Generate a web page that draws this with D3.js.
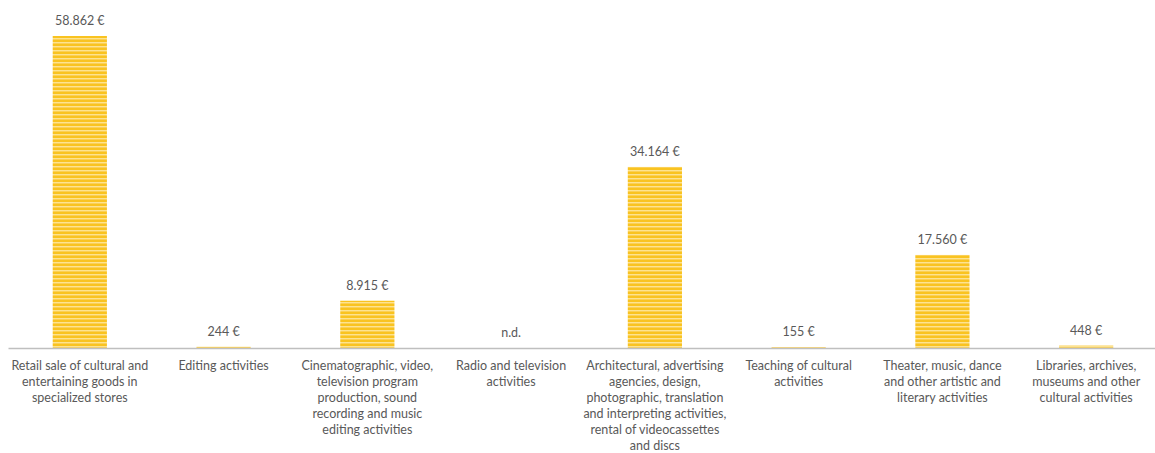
<!DOCTYPE html>
<html>
<head>
<meta charset="utf-8">
<script src="https://cdn.jsdelivr.net/npm/d3@7"></script>
<style>
  html, body { margin: 0; padding: 0; background: #fff; }
  svg { display: block; }
  text { font-family: "Lato", "Open Sans", "Liberation Sans", sans-serif; fill: #595959; font-size: 12.5px; }
</style>
</head>
<body>
<svg id="chart" width="1155" height="453"></svg>
<script>
// Cultural sector figures by activity (thousand €); null = not available
const categories = [
  ["Retail sale of cultural and", "entertaining goods in", "specialized stores"],
  ["Editing activities"],
  ["Cinematographic, video,", "television program", "production, sound", "recording and music", "editing activities"],
  ["Radio and television", "activities"],
  ["Architectural, advertising", "agencies, design,", "photographic, translation", "and interpreting activities,", "rental of videocassettes", "and discs"],
  ["Teaching of cultural", "activities"],
  ["Theater, music, dance", "and other artistic and", "literary activities"],
  ["Libraries, archives,", "museums and other", "cultural activities"]
];
const values = [58862, 244, 8915, null, 34164, 155, 17560, 448];

const svg = d3.select("#chart");
const W = 1155, H = 453;
const margin = { left: 8, right: -3, top: 36, bottom: 105 };
const baseY = H - margin.bottom;

const idx = d3.range(categories.length);
const x = d3.scaleBand().domain(idx).range([margin.left, W - margin.right]).paddingInner(0.623).paddingOuter(0.311);
const y = d3.scaleLinear().domain([0, 58862]).range([baseY, margin.top]);

// striped gold fill
const defs = svg.append("defs");
const pat = defs.append("pattern").attr("id", "stripes").attr("patternUnits", "userSpaceOnUse")
  .attr("width", 8).attr("height", 4);
pat.append("rect").attr("width", 8).attr("height", 4).attr("fill", "#F9C320");
pat.append("rect").attr("y", 2).attr("width", 8).attr("height", 1).attr("fill", "#FDE390");
pat.append("rect").attr("y", 3).attr("width", 8).attr("height", 1).attr("fill", "#FBD055");

const fmt = v => v == null ? "n.d." : d3.format(",")(v).replace(/,/g, ".") + " €";

svg.append("g").selectAll("rect").data(idx.filter(i => values[i] != null)).join("rect")
  .attr("x", i => x(i))
  .attr("width", x.bandwidth())
  .attr("y", i => y(values[i]))
  .attr("height", i => baseY - y(values[i]))
  .attr("fill", "url(#stripes)");

// value labels
svg.append("g").selectAll("text").data(idx).join("text")
  .attr("x", i => x(i) + x.bandwidth() / 2)
  .attr("y", i => (values[i] == null ? baseY : y(values[i])) - 11)
  .attr("text-anchor", "middle")
  .text(i => fmt(values[i]));

// category axis
const xAxis = d3.axisBottom(x).tickSize(0).tickFormat("");
const gx = svg.append("g").attr("transform", `translate(0,${baseY})`).call(xAxis);
gx.select(".domain").attr("stroke", "#BFBFBF").attr("stroke-width", 1.5);

const lab = svg.append("g").selectAll("text").data(idx).join("text")
  .attr("text-anchor", "middle")
  .attr("x", i => x(i) + x.bandwidth() / 2)
  .attr("y", baseY + 22);
lab.selectAll("tspan").data(i => categories[i].map(t => ({ t, cx: x(i) + x.bandwidth() / 2 })))
  .join("tspan")
  .attr("x", d => d.cx)
  .attr("dy", (d, k) => k === 0 ? 0 : 16)
  .text(d => d.t);
</script>
</body>
</html>
